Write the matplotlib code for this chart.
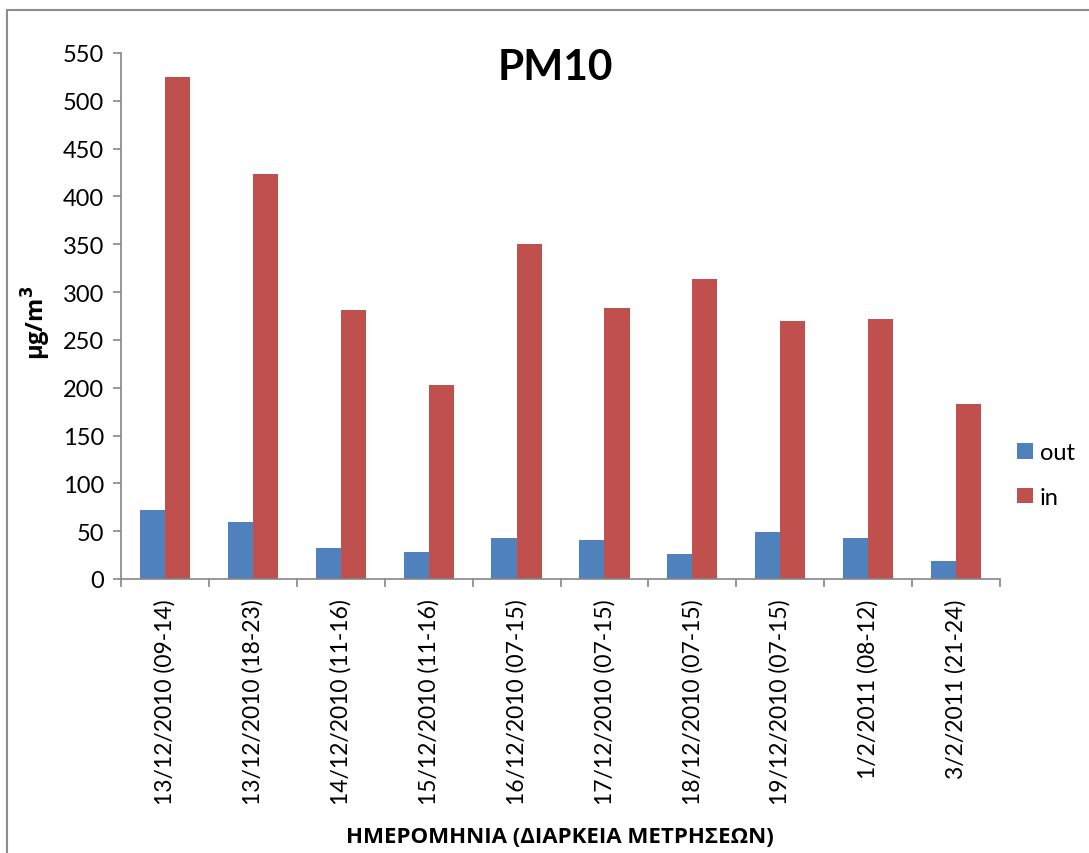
import matplotlib
matplotlib.use("Agg")
import matplotlib.pyplot as plt
from matplotlib.patches import Rectangle
import numpy as np

categories = [
    "13/12/2010 (09-14)", "13/12/2010 (18-23)", "14/12/2010 (11-16)",
    "15/12/2010 (11-16)", "16/12/2010 (07-15)", "17/12/2010 (07-15)",
    "18/12/2010 (07-15)", "19/12/2010 (07-15)", "1/2/2011 (08-12)",
    "3/2/2011 (21-24)",
]
out_values = [72, 60, 32, 28, 43, 41, 26, 49, 43, 19]
in_values = [525, 424, 281, 203, 350, 283, 314, 270, 272, 183]
y_ticks = list(range(0, 551, 50))

plt.rcParams["font.family"] = ["Lato", "DejaVu Sans"]
greek_font = ["Open Sans", "DejaVu Sans"]

W, H = 1089, 854
fig = plt.figure(figsize=(W / 100, H / 100), dpi=100)
fig.patch.set_facecolor("white")

# outer chart frame
frame_color = "#8c8c8c"
fig.add_artist(Rectangle((7 / W, -0.2), 1.2, 1 - 11 / H + 0.2,
                         transform=fig.transFigure, fill=False,
                         edgecolor=frame_color, linewidth=1.5))

ax = fig.add_axes([121 / W, 1 - 580 / H, (1000 - 121) / W, (580 - 54) / H])

x = np.arange(len(categories))
bw = 0.285
blue = "#4f81bd"
red = "#c0504d"
ax.bar(x - bw / 2, out_values, bw, color=blue, label="out", zorder=2)
ax.bar(x + bw / 2, in_values, bw, color=red, label="in", zorder=2)

ax.set_xlim(-0.5, len(categories) - 0.5)
ax.set_ylim(0, 550)
ax.set_yticks(y_ticks)
ax.set_yticklabels([str(v) for v in y_ticks], fontsize=17)

ax.set_xticks(x)
ax.set_xticklabels(categories, rotation=90, fontsize=16.5)
ax.tick_params(axis="x", length=0, pad=14)
ax.set_xticks(np.arange(-0.5, len(categories), 1.0), minor=True)
ax.tick_params(axis="x", which="minor", length=6, color="#868686", width=1.2)
ax.tick_params(axis="y", length=6, color="#868686", width=1.2, pad=6)

for side in ("top", "right"):
    ax.spines[side].set_visible(False)
for side in ("left", "bottom"):
    ax.spines[side].set_color("#868686")
    ax.spines[side].set_linewidth(1.2)

fig.text(555 / W, 1 - 68 / H, "PM10", fontsize=30.5, fontweight="bold",
         ha="center", va="center")
fig.text(36 / W, 1 - 323 / H, "μg/m$^\\mathbf{3}$", fontsize=17, fontweight="bold",
         family=greek_font, rotation=90, ha="center", va="center")
fig.text(560 / W, 1 - 838 / H, "ΗΜΕΡΟΜΗΝΙΑ (ΔΙΑΡΚΕΙΑ ΜΕΤΡΗΣΕΩΝ)", fontsize=16,
         fontweight="bold", family=greek_font, ha="center", va="center")

leg = fig.legend(loc="center left", bbox_to_anchor=(996 / W, 1 - 476 / H),
                 frameon=False, fontsize=17, handlelength=0.65, handleheight=0.65,
                 handletextpad=0.3, labelspacing=1.0)

fig.savefig("out.png", dpi=100)
